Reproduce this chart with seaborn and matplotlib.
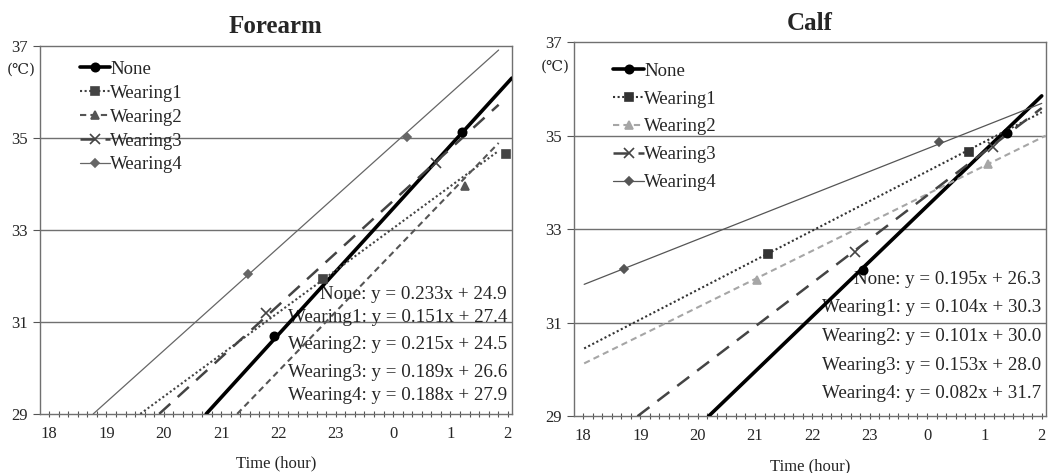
import numpy as np
import pandas as pd
import matplotlib
matplotlib.use("Agg")
import matplotlib.pyplot as plt
import matplotlib.transforms as mtransforms
from matplotlib.lines import Line2D
import seaborn as sns

sns.set_theme(style="white")
plt.rcParams["font.family"] = ["Liberation Serif", "DejaVu Serif"]

series = ["None", "Wearing1", "Wearing2", "Wearing3", "Wearing4"]
hour_ticks = [18, 19, 20, 21, 22, 23, 24, 25, 26]
hour_labels = ["18", "19", "20", "21", "22", "23", "0", "1", "2"]

# trend line end points (hour, degC)
forearm_x0 = [20.74, 19.59, 21.28, 19.92, 18.77]
forearm_y0 = [29.0, 29.0, 29.0, 29.0, 29.0]
forearm_x1 = [26.07, 25.82, 25.84, 25.84, 25.84]
forearm_y1 = [36.30, 34.70, 34.89, 35.72, 36.91]
# measured points
forearm_mx = [[21.93, 25.20], [22.78, 25.96], [25.26], [21.79, 24.74], [21.46, 24.25]]
forearm_my = [[30.70, 35.13], [31.93, 34.65], [33.96], [31.20, 34.46], [32.04, 35.02]]
forearm_eq = ["None: y = 0.233x + 24.9", "Wearing1: y = 0.151x + 27.4",
              "Wearing2: y = 0.215x + 24.5", "Wearing3: y = 0.189x + 26.6",
              "Wearing4: y = 0.188x + 27.9"]

calf_x0 = [20.19, 18.02, 18.02, 18.95, 18.02]
calf_y0 = [29.0, 30.45, 30.13, 29.0, 31.82]
calf_x1 = [26.0, 26.0, 26.07, 26.0, 26.0]
calf_y1 = [35.85, 35.50, 35.0, 35.59, 35.69]
calf_mx = [[22.89, 25.40], [21.22, 24.73], [21.03, 25.06], [22.75, 25.15], [18.71, 24.21]]
calf_my = [[32.12, 35.05], [32.47, 34.65], [31.91, 34.39], [32.51, 34.76], [32.14, 34.86]]
calf_eq = ["None: y = 0.195x + 26.3", "Wearing1: y = 0.104x + 30.3",
           "Wearing2: y = 0.101x + 30.0", "Wearing3: y = 0.153x + 28.0",
           "Wearing4: y = 0.082x + 31.7"]

styles = [
    dict(ls="-", lw=2.6, marker="o", ms=6),
    dict(ls=(0, (1, 1.2)), lw=1.5, marker="s", ms=6),
    dict(ls=(0, (3, 2)), lw=1.5, marker="^", ms=6),
    dict(ls=(0, (6, 4)), lw=1.8, marker="x", ms=7),
    dict(ls="-", lw=0.9, marker="D", ms=4.5),
]
forearm_colors = ["#000000", "#444444", "#555555", "#444444", "#666666"]
calf_colors = ["#000000", "#333333", "#a6a6a6", "#444444", "#555555"]


def draw_panel(ax, title, x0, y0, x1, y1, mx, my, eqs, colors, eq_y,
               leg_space, leg_top):
    handles = []
    for i, name in enumerate(series):
        st = styles[i]
        df = pd.DataFrame({"t": [x0[i], x1[i]], "v": [y0[i], y1[i]]})
        sns.lineplot(data=df, x="t", y="v", ax=ax, color=colors[i],
                     linestyle=st["ls"], linewidth=st["lw"], zorder=3)
        ax.plot(mx[i], my[i], linestyle="none", marker=st["marker"],
                ms=st["ms"], color=colors[i], mew=1.2, zorder=4)
        handles.append(Line2D([], [], color=colors[i], linestyle=st["ls"],
                              linewidth=st["lw"], marker=st["marker"],
                              ms=st["ms"], mew=1.2))
    ax.set_xlim(17.84, 26.07)
    ax.set_ylim(29, 37)
    ax.set_yticks([29, 31, 33, 35, 37])
    ax.set_xticks(hour_ticks)
    ax.set_xticklabels(hour_labels)
    ax.set_xticks(np.arange(18, 26.05, 1 / 6), minor=True)
    ax.tick_params(axis="x", which="both", direction="inout", length=5,
                   width=0.8, color="#555555", bottom=True, labelsize=12, pad=6)
    ax.tick_params(axis="y", which="major", direction="out", length=5,
                   width=0.8, color="#555555", left=True, labelsize=12)
    for yv in [31, 33, 35]:
        ax.axhline(yv, color="#707070", lw=1.0, zorder=1)
    for sp in ax.spines.values():
        sp.set_color("#707070")
        sp.set_linewidth(1.0)
    ax.set_xlabel("Time (hour)", fontsize=12, labelpad=10)
    ax.set_ylabel("")
    ax.set_title(title, fontsize=18, fontweight="bold", pad=9)
    ax.text(-0.07, 0.935, "(℃)", transform=ax.transAxes, fontsize=11,
            ha="left", va="center", family=["DejaVu Serif"])
    trans = mtransforms.blended_transform_factory(ax.transAxes, ax.transData)
    for i, eq in enumerate(eqs):
        ax.text(0.99, eq_y[i], eq, transform=trans, ha="right", va="center",
                fontsize=13.7, zorder=2)
    ax.legend(handles=handles, labels=series, loc="upper left",
              bbox_to_anchor=(0.06, leg_top), frameon=False, fontsize=13.5,
              handlelength=1.65, handletextpad=0.0, labelspacing=leg_space,
              borderaxespad=0.2)


fig = plt.figure(figsize=(10.51, 4.73), dpi=100)
ax1 = fig.add_axes([0.038, 0.125, 0.449, 0.778])
ax2 = fig.add_axes([0.546, 0.120, 0.449, 0.791])

draw_panel(ax1, "Forearm", forearm_x0, forearm_y0, forearm_x1, forearm_y1,
           forearm_mx, forearm_my, forearm_eq, forearm_colors,
           [31.59, 31.09, 30.50, 29.91, 29.41], 0.36, 0.99)
draw_panel(ax2, "Calf", calf_x0, calf_y0, calf_x1, calf_y1,
           calf_mx, calf_my, calf_eq, calf_colors,
           [31.93, 31.33, 30.71, 30.09, 29.49], 0.57, 0.975)

fig.savefig("out.png", dpi=100)
